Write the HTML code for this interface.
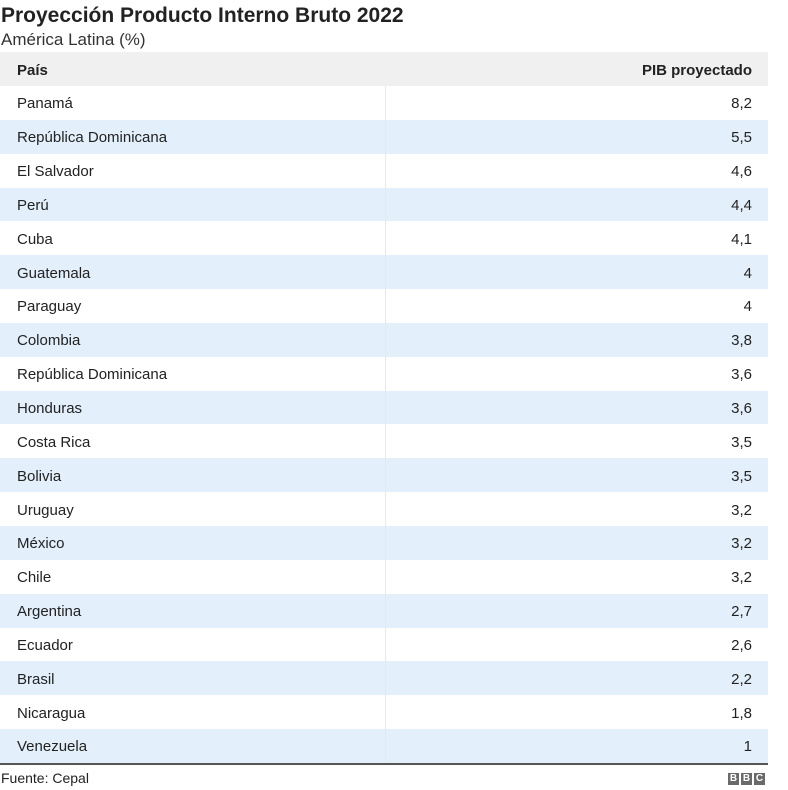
<!DOCTYPE html>
<html><head><meta charset="utf-8"><style>
body{margin:0;width:788px;height:790px;background:#fff;font-family:"Liberation Sans",Arial,sans-serif;color:#222;position:relative;overflow:hidden}
.t{position:absolute;left:1px;top:4px;font-size:21px;font-weight:bold;color:#222}
.s{position:absolute;left:1px;top:30px;font-size:17px;color:#333}
table{position:absolute;left:0;top:52px;width:768px;border-collapse:collapse;font-size:15px;table-layout:fixed}
td,th{height:33.85px;padding:2px 16px 0 17px;box-sizing:border-box}
th{background:#f0f0f0;font-weight:bold;text-align:left;height:34px}
th:last-child,td:last-child{text-align:right}
td:first-child{border-right:1px solid #e8e8e8}
tbody tr:nth-child(even) td{background:#e3f0fc}
.b{position:absolute;left:0;top:763px;width:768px;height:2px;background:#555}
.f{position:absolute;left:1px;top:770px;font-size:14px;color:#222}
.bbc{position:absolute;left:728px;top:773px;display:flex;gap:2px}
.bbc span{width:11px;height:12px;background:#6a6a6a;color:#fff;font-size:10px;font-weight:bold;text-align:center;line-height:12px}
</style></head><body>
<div class="t">Proyección Producto Interno Bruto 2022</div>
<div class="s">América Latina (%)</div>
<table><colgroup><col style="width:385px"><col></colgroup><thead><tr><th>País</th><th>PIB proyectado</th></tr></thead><tbody>
<tr><td>Panamá</td><td>8,2</td></tr>
<tr><td>República Dominicana</td><td>5,5</td></tr>
<tr><td>El Salvador</td><td>4,6</td></tr>
<tr><td>Perú</td><td>4,4</td></tr>
<tr><td>Cuba</td><td>4,1</td></tr>
<tr><td>Guatemala</td><td>4</td></tr>
<tr><td>Paraguay</td><td>4</td></tr>
<tr><td>Colombia</td><td>3,8</td></tr>
<tr><td>República Dominicana</td><td>3,6</td></tr>
<tr><td>Honduras</td><td>3,6</td></tr>
<tr><td>Costa Rica</td><td>3,5</td></tr>
<tr><td>Bolivia</td><td>3,5</td></tr>
<tr><td>Uruguay</td><td>3,2</td></tr>
<tr><td>México</td><td>3,2</td></tr>
<tr><td>Chile</td><td>3,2</td></tr>
<tr><td>Argentina</td><td>2,7</td></tr>
<tr><td>Ecuador</td><td>2,6</td></tr>
<tr><td>Brasil</td><td>2,2</td></tr>
<tr><td>Nicaragua</td><td>1,8</td></tr>
<tr><td>Venezuela</td><td>1</td></tr>
</tbody></table>
<div class="b"></div>
<div class="f">Fuente: Cepal</div>
<div class="bbc"><span>B</span><span>B</span><span>C</span></div>
</body></html>
